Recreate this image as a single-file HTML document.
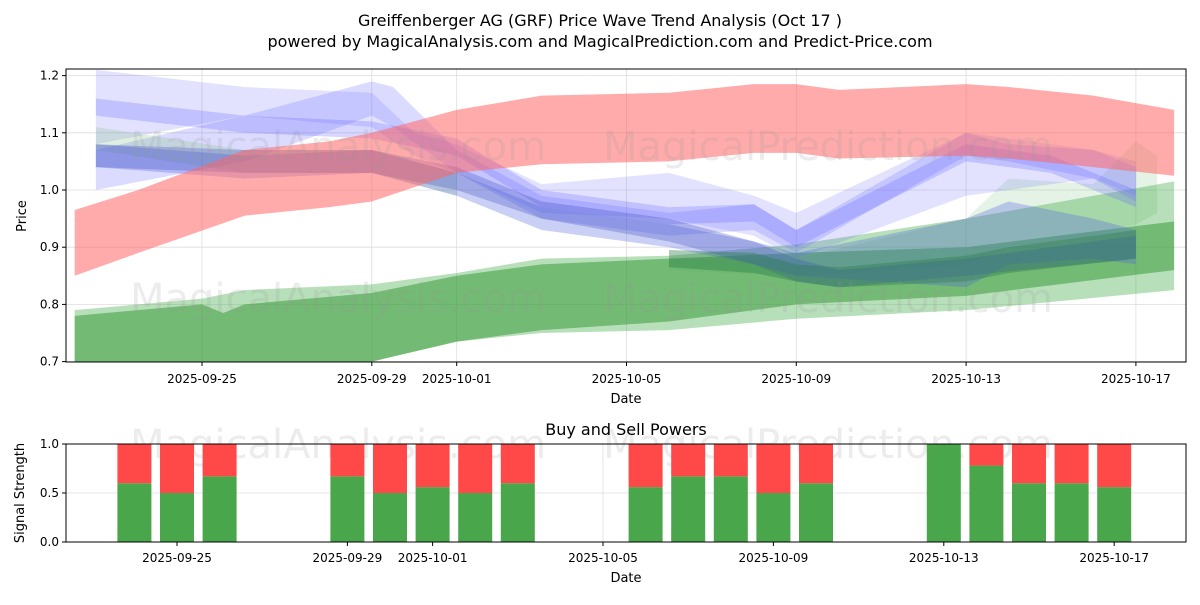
<!DOCTYPE html>
<html><head><meta charset="utf-8"><style>
body{margin:0;background:#fff;font-family:"Liberation Sans","DejaVu Sans",sans-serif;}
svg text{font-family:"DejaVu Sans","Liberation Sans",sans-serif;}
</style></head><body>
<svg id="c" width="1200" height="600" viewBox="0 0 1200 600" xmlns="http://www.w3.org/2000/svg">
<rect width="1200" height="600" fill="#fff"/>
<text x="600" y="26" text-anchor="middle" font-size="16">Greiffenberger AG (GRF) Price Wave Trend Analysis (Oct 17 )</text>
<text x="600" y="47" text-anchor="middle" font-size="16">powered by MagicalAnalysis.com and MagicalPrediction.com and Predict-Price.com</text>
<defs><clipPath id="cp"><rect x="66" y="69" width="1120" height="293"/></clipPath></defs>
<g id="grid1"></g>
<g id="bands" clip-path="url(#cp)"></g>
<g font-size="40" fill="#999" opacity="0.18">
<text x="130" y="160">MagicalAnalysis.com</text><text x="603" y="160">MagicalPrediction.com</text>
<text x="130" y="312">MagicalAnalysis.com</text><text x="603" y="312">MagicalPrediction.com</text>
<text x="130" y="458">MagicalAnalysis.com</text><text x="603" y="458">MagicalPrediction.com</text>
</g>
<rect x="66" y="69" width="1120" height="293" fill="none" stroke="#000"/>
<g id="ax1"></g>
<text x="626" y="403" text-anchor="middle" font-size="13">Date</text>
<text x="26" y="216" text-anchor="middle" font-size="13" transform="rotate(-90 26 216)">Price</text>
<text x="626" y="435" text-anchor="middle" font-size="16">Buy and Sell Powers</text>
<g id="grid2"></g>
<g id="bars"></g>
<rect x="66" y="444" width="1120" height="98" fill="none" stroke="#000"/>
<g id="ax2"></g>
<text x="626" y="582" text-anchor="middle" font-size="13">Date</text>
<text x="24" y="493" text-anchor="middle" font-size="13" transform="rotate(-90 24 493)">Signal Strength</text>
</svg>
<script>
// days relative to 2025-09-25
const xTickDays=[0,4,6,10,14,18,22];
const xTickLabels=["2025-09-25","2025-09-29","2025-10-01","2025-10-05","2025-10-09","2025-10-13","2025-10-17"];
const yTicks=[0.7,0.8,0.9,1.0,1.1,1.2];
const yTickLabels=["0.7","0.8","0.9","1.0","1.1","1.2"];
const redDays=[-3,-1.5,1,3,4,6,8,11,13,14,15,18,19,21,22.9];
const redUpper=[0.965,1.0,1.07,1.085,1.10,1.14,1.165,1.17,1.185,1.185,1.175,1.185,1.18,1.165,1.14];
const redLower=[0.85,0.89,0.955,0.97,0.98,1.03,1.045,1.05,1.065,1.065,1.055,1.06,1.055,1.04,1.025];
const g1Days=[-3,0,1,4,6,8,11,14,18,22.9];
const g1Upper=[0.79,0.81,0.825,0.835,0.855,0.88,0.885,0.905,0.95,1.015];
const g1Lower=[0.68,0.69,0.695,0.70,0.735,0.75,0.755,0.775,0.79,0.825];
const g2Days=[-3,0,0.5,1,4,6,8,11,14,18,22.9];
const g2Upper=[0.78,0.80,0.785,0.80,0.82,0.85,0.87,0.88,0.89,0.90,0.945];
const g2Lower=[0.66,0.67,0.68,0.69,0.70,0.735,0.755,0.77,0.80,0.815,0.86];
const g3Days=[11,13,14,15,18,19,22];
const g3Upper=[0.895,0.89,0.87,0.865,0.885,0.90,0.93];
const g3Lower=[0.865,0.855,0.84,0.83,0.84,0.855,0.88];
const g4Days=[11,14,18,19,21,22,22.5];
const g4Upper=[0.88,0.88,0.95,1.02,1.01,1.085,1.06];
const g4Lower=[0.86,0.85,0.87,0.90,0.92,0.94,0.96];
const b1Days=[-2.5,1,4,5,6,8,11,13,14,18,21,22];
const b1Upper=[1.21,1.18,1.17,1.10,1.08,1.01,1.03,0.99,0.96,1.10,1.07,1.05];
const b1Lower=[1.08,1.13,1.11,1.06,1.03,0.96,0.95,0.92,0.88,0.99,1.02,0.99];
const b2Days=[-2.5,1,4,4.5,6,8,11,13,14,18,19,21,22];
const b2Upper=[1.07,1.13,1.19,1.18,1.07,0.99,0.96,0.975,0.93,1.10,1.08,1.07,1.04];
const b2Lower=[1.00,1.05,1.13,1.11,1.03,0.95,0.92,0.93,0.89,1.06,1.05,1.02,0.98];
const b3Days=[-2.5,1,4,6,8,11,13,14,18,19,21,22];
const b3Upper=[1.08,1.06,1.07,1.03,0.97,0.94,0.91,0.89,0.95,0.98,0.95,0.93];
const b3Lower=[1.04,1.02,1.03,0.99,0.93,0.90,0.87,0.85,0.83,0.87,0.88,0.87];
const b4Days=[-2.5,1,4,6,8,11,13,14,15,18,22];
const b4Upper=[1.08,1.07,1.07,1.04,0.98,0.95,0.91,0.88,0.86,0.88,0.92];
const b4Lower=[1.04,1.03,1.03,1.00,0.95,0.91,0.87,0.84,0.83,0.85,0.88];
const b5Days=[-2.5,1,4,6,8,11,13,14,18,20,22];
const b5Upper=[1.16,1.13,1.12,1.09,1.00,0.97,0.975,0.93,1.08,1.06,1.00];
const b5Lower=[1.13,1.10,1.09,1.06,0.97,0.94,0.945,0.90,1.05,1.03,0.97];
const oDays=[-2.5,1,4,6];
const oUpper=[1.11,1.07,1.07,1.03];
const oLower=[1.07,1.03,1.03,0.99];
// power chart
const barDays=[-1,0,1,4,5,6,7,8,11,12,13,14,15,18,19,20,21,22];
const buyPower=[0.6,0.5,0.67,0.67,0.5,0.56,0.5,0.6,0.56,0.67,0.67,0.5,0.6,1.0,0.78,0.6,0.6,0.56];
const pTicks=[0,0.5,1.0];
const pTickLabels=["0.0","0.5","1.0"];

const NS="http://www.w3.org/2000/svg";
const x1=d=>202+d*42.45, y1=v=>190-(v-1)*572;
const x2=d=>177+d*42.6, y2=v=>542-v*98;
function mk(tag,attrs,parent){const e=document.createElementNS(NS,tag);for(const k in attrs)e.setAttribute(k,attrs[k]);document.getElementById(parent).appendChild(e);return e;}
// grids & ticks
xTickDays.forEach((d,i)=>{
 let l=mk('line',{x1:x1(d),x2:x1(d),y1:69,y2:362,stroke:'#ddd','stroke-width':0.8},'grid1');
 
 
 let t=mk('line',{x1:x1(d),x2:x1(d),y1:362,y2:366,stroke:'#000'},'ax1');
 
 
 let tx=mk('text',{x:x1(d),y:383,'text-anchor':'middle','font-size':12},'ax1');tx.textContent=xTickLabels[i];
 
 
 let l2=mk('line',{x1:x2(d),x2:x2(d),y1:444,y2:542,stroke:'#ddd','stroke-width':0.8},'grid2');
 
 
 let t2=mk('line',{x1:x2(d),x2:x2(d),y1:542,y2:546,stroke:'#000'},'ax2');
 
 
 let tx2=mk('text',{x:x2(d),y:562,'text-anchor':'middle','font-size':12},'ax2');tx2.textContent=xTickLabels[i];
 
 
});
yTicks.forEach((v,i)=>{
 let l=mk('line',{x1:66,x2:1186,y1:y1(v),y2:y1(v),stroke:'#ddd','stroke-width':0.8},'grid1');
 
 
 let t=mk('line',{x1:62,x2:66,y1:y1(v),y2:y1(v),stroke:'#000'},'ax1');
 
 
 let tx=mk('text',{x:59,y:y1(v)+4,'text-anchor':'end','font-size':12},'ax1');tx.textContent=yTickLabels[i];
 
 
});
pTicks.forEach((v,i)=>{
 let l=mk('line',{x1:66,x2:1186,y1:y2(v),y2:y2(v),stroke:'#ddd','stroke-width':0.8},'grid2');
 
 
 let t=mk('line',{x1:62,x2:66,y1:y2(v),y2:y2(v),stroke:'#000'},'ax2');
 
 
 let tx=mk('text',{x:59,y:y2(v)+4,'text-anchor':'end','font-size':12},'ax2');tx.textContent=pTickLabels[i];
 
 
});
function band(days,up,lo,color,op,name){
 let pts=days.map((d,i)=>x1(d)+','+y1(up[i]));
 for(let i=days.length-1;i>=0;i--)pts.push(x1(days[i])+','+y1(lo[i]));
 let p=mk('polygon',{points:pts.join(' '),fill:color,'fill-opacity':op},'bands');
 
 
}
band(g1Days,g1Upper,g1Lower,'#4caf50',0.4,'green-band-wide');
band(g2Days,g2Upper,g2Lower,'#3d9a3d',0.55,'green-band-main');
band(g4Days,g4Upper,g4Lower,'#4caf50',0.15,'green-band-rising');
band(b1Days,b1Upper,b1Lower,'#7070ff',0.2,'blue-band-1');
band(b2Days,b2Upper,b2Lower,'#7070ff',0.25,'blue-band-2');
band(b5Days,b5Upper,b5Lower,'#6060ff',0.25,'blue-band-5');
band(oDays,oUpper,oLower,'#80c080',0.25,'green-band-early');
band(b3Days,b3Upper,b3Lower,'#5060e0',0.3,'blue-band-3');
band(b4Days,b4Upper,b4Lower,'#4050c0',0.3,'blue-band-4');
band(g3Days,g3Upper,g3Lower,'#2e7d4a',0.4,'green-band-dark');
band(redDays,redUpper,redLower,'#ff6666',0.55,'red-band');
barDays.forEach((d,i)=>{
 let g=mk('rect',{x:x2(d)-17,y:y2(buyPower[i]),width:34,height:y2(0)-y2(buyPower[i]),fill:'#4aa64a'},'bars');
 
 
 let r=mk('rect',{x:x2(d)-17,y:y2(1),width:34,height:y2(buyPower[i])-y2(1),fill:'#ff4848'},'bars');
 
 
});
</script>
</body></html>
